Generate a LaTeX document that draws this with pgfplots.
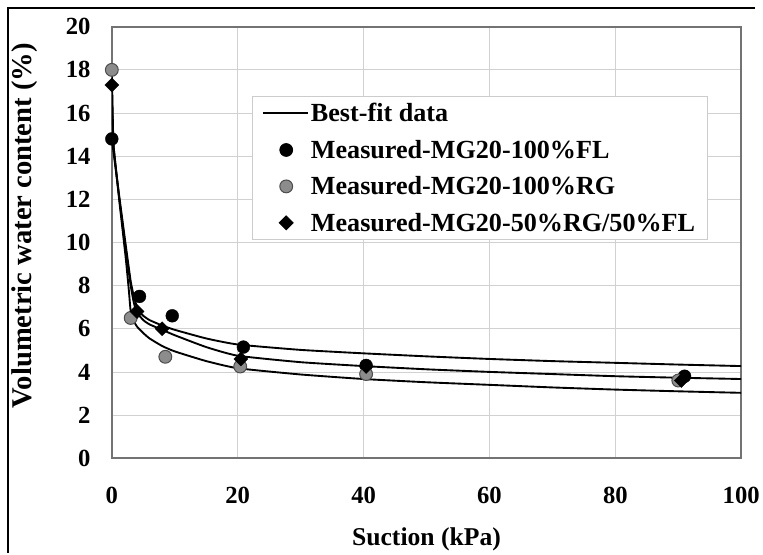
\documentclass[border=0pt]{standalone}
\usepackage{pgfplots}
\pgfplotsset{compat=1.18}
\usepackage{fontspec}
\setmainfont{Liberation Serif}
\pgfplotsset{
  fitleg/.style={legend image code/.code={\draw[##1, line width=2bp] (0bp,0bp) -- (45bp,0bp);}},
  markleg/.style={legend image code/.code={\draw[##1] plot coordinates {(23bp,0bp)};}},
}
\begin{document}
\begin{tikzpicture}
\begin{axis}[
  name=ax,
  scale only axis,
  width=636bp, height=436bp,
  xmin=0, xmax=100, ymin=0, ymax=20,
  xtick={0,20,...,100}, ytick={0,2,...,20},
  grid=major,
  major grid style={draw=black!18, line width=0.8bp},
  axis line style={draw=black!55, line width=1.8bp},
  tick style={draw=none},
  /pgf/number format/assume math mode=true,
  tick label style={font=\bfseries\fontsize{25}{25}\selectfont},
  xticklabel style={yshift=-26bp},
  yticklabel style={xshift=-18bp},
  xlabel={Suction (kPa)},
  ylabel={Volumetric water content (\%)},
  xlabel style={at={(axis description cs:0.5,-0.188)}, anchor=center, font=\bfseries\fontsize{26}{26}\selectfont},
  ylabel style={at={(axis description cs:-0.138,0.539)}, anchor=center, font=\bfseries\fontsize{29}{29}\selectfont},
  legend style={at={(0.223,0.839)}, anchor=north west,
    draw=black!20, line width=0.8bp, fill=white,
    font=\bfseries\fontsize{26.5}{26.5}\selectfont,
    row sep=13bp, inner xsep=10bp, inner ysep=5bp},
  legend cell align=left,
]
% Best-fit curves
\addplot[black, line width=1.9bp, smooth, tension=0.3, fitleg] coordinates {
 (0,14.8)(0.3,14.1)(1.2,12.1)(2.2,9.9)(3,8.2)(3.5,7.5)(4,7.0)(4.5,6.75)(5,6.6)(6,6.4)(8,6.15)(10,5.95)(15,5.55)(20,5.27)(30,5.02)(40,4.86)(50,4.72)(60,4.6)(70,4.5)(80,4.42)(90,4.34)(100,4.27)};
\addlegendentry{Best-fit data}
\addplot[black, line width=1.9bp, smooth, tension=0.3, forget plot] coordinates {
 (0,17.3)(0.15,15.5)(0.3,14.4)(1.2,12)(2.2,9.7)(3,8.0)(3.5,7.2)(4,6.75)(5,6.4)(6,6.2)(8,5.95)(10,5.7)(15,5.15)(20,4.75)(30,4.45)(40,4.27)(50,4.12)(60,4.0)(70,3.9)(80,3.8)(90,3.73)(100,3.67)};
\addplot[black, line width=1.9bp, smooth, tension=0.3, forget plot] coordinates {
 (0,18)(0.15,15.8)(0.3,14.4)(1.2,11.9)(2.2,9.3)(2.7,7.8)(3,6.8)(3.5,6.35)(4,6.1)(5,5.8)(6,5.55)(8,5.2)(10,4.95)(15,4.5)(20,4.17)(30,3.88)(40,3.67)(50,3.52)(60,3.4)(70,3.28)(80,3.18)(90,3.1)(100,3.03)};
% Measured FL
\addplot[only marks, mark=*, mark size=6.5bp, mark options={fill=black, draw=black}, markleg] coordinates {
 (0,14.8)(4.4,7.5)(9.6,6.6)(20.9,5.15)(40.4,4.3)(91,3.8)};
\addlegendentry{Measured-MG20-100\%FL}
% Measured RG
\addplot[only marks, mark=*, mark size=6.5bp, mark options={fill=black!45, draw=black!70, line width=1bp}, markleg] coordinates {
 (0,18)(3,6.5)(8.5,4.7)(20.4,4.25)(40.4,3.9)(90,3.6)};
\addlegendentry{Measured-MG20-100\%RG}
% Measured 50/50
\addplot[only marks, mark=square*, mark size=5bp, mark options={fill=black, draw=black, rotate=45}, markleg] coordinates {
 (0,17.3)(4,6.8)(8,6.0)(20.5,4.6)(40.4,4.25)(90.5,3.6)};
\addlegendentry{Measured-MG20-50\%RG/50\%FL}
\end{axis}
\path[use as bounding box] ([shift={(-113bp,-96bp)}]ax.south west) rectangle ([shift={(650bp,463bp)}]ax.south west);
\draw[black, line width=1.5bp] ([shift={(-105bp,-96bp)}]ax.south west) -- ([shift={(-105bp,455bp)}]ax.south west) -- ([shift={(650bp,455bp)}]ax.south west);
\end{tikzpicture}
\end{document}
